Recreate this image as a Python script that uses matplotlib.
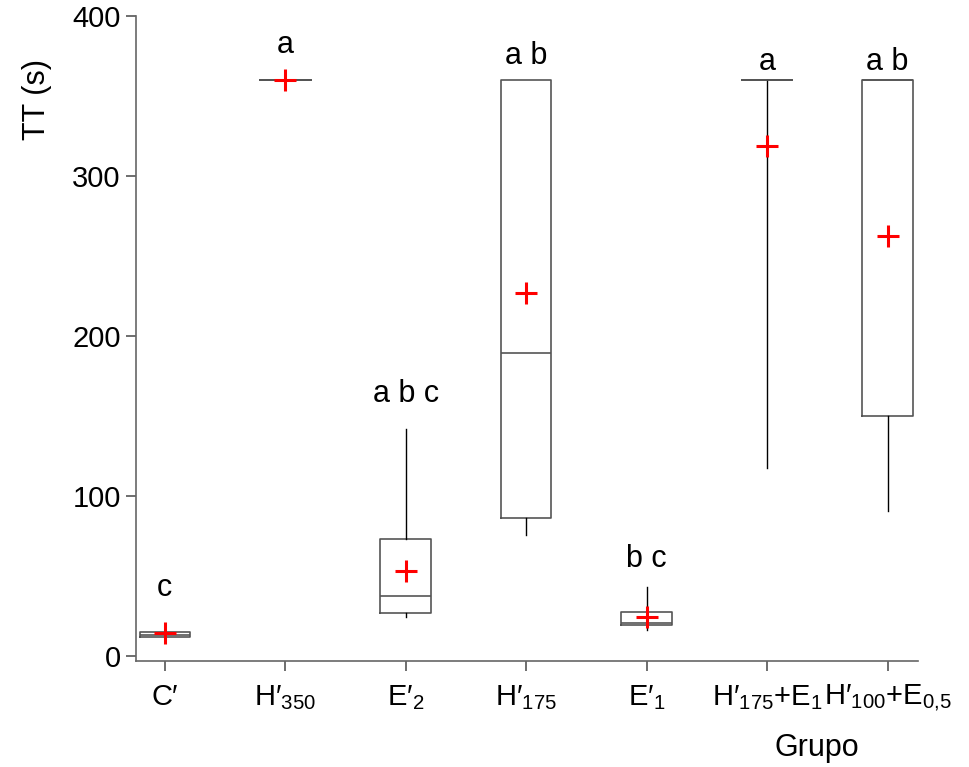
import matplotlib
matplotlib.use('Agg')
import matplotlib.pyplot as plt

plt.rcParams['font.family'] = ['Liberation Sans', 'DejaVu Sans']
plt.rcParams['mathtext.default'] = 'regular'

grupos = ["C′", "H′$_{350}$", "E′$_{2}$", "H′$_{175}$", "E′$_{1}$",
          "H′$_{175}$+E$_{1}$", "H′$_{100}$+E$_{0{,}5}$"]
q1 = [12.3, 360, 26.7, 86.5, 19.8, 360, 150]
mediana = [13.5, 360, 37.5, 189.5, 20.6, 360, 360]
q3 = [15.2, 360, 73.5, 360, 27.9, 360, 360]
bigote_inf = [12.3, 360, 24.6, 76, 16.3, 117.5, 90.6]
bigote_sup = [15.2, 360, 142, 360, 43, 360, 360]
media = [14.6, 360, 53, 227, 24.8, 319, 262.5]
letras = ["c", "a", "a b c", "a b", "b c", "a", "a b"]
y_letras = [42.5, 382, 164, 375, 61, 371, 371]

stats = []
for i in range(len(grupos)):
    stats.append(dict(med=mediana[i], q1=q1[i], q3=q3[i],
                      whislo=bigote_inf[i], whishi=bigote_sup[i],
                      mean=media[i], fliers=[]))

fig = plt.figure(figsize=(9.69, 7.67), dpi=100)
ax = fig.add_axes([0.1403, 0.1382, 0.8067, 0.8409])

pos = list(range(1, len(grupos) + 1))
ax.bxp(stats, positions=pos, widths=0.42, showmeans=True, showcaps=False,
       showfliers=False,
       boxprops=dict(color='#555555', linewidth=1.2),
       medianprops=dict(color='#555555', linewidth=1.2),
       whiskerprops=dict(color='black', linewidth=1),
       meanprops=dict(marker='+', markeredgecolor='red', markersize=16,
                      markeredgewidth=2.2))

for p, t, y in zip(pos, letras, y_letras):
    ax.text(p, y, t, ha='center', va='center', fontsize=22)

ax.set_xlim(0.76, 7.25)
ax.set_ylim(-3, 400)
ax.set_yticks([0, 100, 200, 300, 400])
ax.set_xticks(pos)
ax.set_xticklabels(grupos)
ax.tick_params(labelsize=21, length=7, color='#555555', width=1.2)
ax.tick_params(axis='y', pad=4)
ax.tick_params(axis='x', pad=9)

for s in ['top', 'right']:
    ax.spines[s].set_visible(False)
for s in ['left', 'bottom']:
    ax.spines[s].set_color('#666666')
    ax.spines[s].set_linewidth(1.2)

ax.set_ylabel('TT (s)', fontsize=22, va='center')
ax.yaxis.set_label_coords(-0.127, 0.87)
ax.set_xlabel('Grupo', fontsize=22, va='center')
ax.xaxis.set_label_coords(0.871, -0.135)

fig.savefig('out.png', dpi=100)
